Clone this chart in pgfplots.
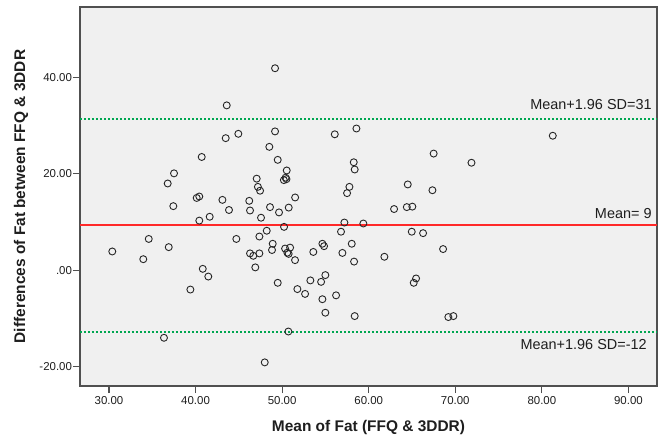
\documentclass[border=0pt]{standalone}
\usepackage{pgfplots}
\pgfplotsset{compat=1.18}
\usepackage{fontspec}
\setmainfont{Liberation Sans}
\definecolor{bgc}{RGB}{240,240,240}
\definecolor{frm}{RGB}{80,80,80}
\definecolor{grn}{RGB}{0,166,81}
\definecolor{rd}{RGB}{255,40,40}
\definecolor{txt}{RGB}{30,30,30}
\begin{document}
\begin{tikzpicture}
\path[use as bounding box] (-80bp,-55bp) rectangle (582bp,386bp);
\begin{axis}[
  scale only axis,
  width=577bp, height=379bp,
  xmin=26.65, xmax=93.3, ymin=-24.0, ymax=54.6,
  axis background/.style={fill=bgc},
  axis line style={frm, line width=1.2bp},
  tick style={frm, line width=1.2bp},
  major tick length=7bp,
  tick align=outside,
  xtick={30,40,50,60,70,80,90},
  xticklabels={30.00,40.00,50.00,60.00,70.00,80.00,90.00},
  ytick={-20,0,20,40},
  yticklabels={-20.00,.00,20.00,40.00},
  xtick pos=bottom, ytick pos=left,
  tick label style={font=\fontsize{11.5}{13}\selectfont, text=txt},
  yticklabel style={xshift=2.5bp},
  xlabel={Mean of Fat (FFQ \& 3DDR)},
  ylabel={Differences of Fat between FFQ \& 3DDR},
  label style={font=\fontsize{15.5}{18}\selectfont\bfseries, text=txt},
  xlabel style={at={(axis description cs:0.5,-0.1082)}, anchor=center},
  ylabel style={at={(axis description cs:-0.1023,0.5)}, anchor=center},
  clip=false,
]
\addplot[grn, line width=2.2bp, dash pattern=on 2bp off 2bp] coordinates {(26.65,31.45) (93.3,31.45)};
\addplot[rd, line width=1.8bp] coordinates {(26.65,9.34) (93.3,9.34)};
\addplot[grn, line width=2.2bp, dash pattern=on 2bp off 2bp] coordinates {(26.65,-12.86) (93.3,-12.86)};
\addplot[only marks, mark=o, mark size=3.5bp, mark options={draw=black!85, line width=0.9bp}] coordinates {
(49.18,41.9) (43.6,34.2) (43.48,27.4) (44.94,28.3) (49.18,28.8) (48.52,25.6)
(49.49,22.9) (40.71,23.5) (56.08,28.2) (58.58,29.4) (37.51,20.1) (36.78,18.0)
(47.06,19.0) (47.2,17.3) (47.45,16.5) (50.53,20.7) (50.4,19.2) (50.2,18.7)
(50.5,18.9) (51.5,15.1) (58.27,22.4) (58.38,20.9) (57.77,17.3) (57.5,16.0)
(40.13,15.0) (40.43,15.3) (43.1,14.6) (46.2,14.4) (81.26,27.9) (67.5,24.2)
(71.87,22.3) (64.51,17.8) (67.36,16.6) (37.43,13.3) (43.86,12.5) (46.29,12.4)
(48.6,13.1) (49.64,12.0) (50.76,13.0) (40.43,10.3) (41.63,11.1) (47.56,10.9)
(50.22,9.0) (57.19,9.9) (56.8,8.0) (48.22,8.2) (47.37,7.0) (44.71,6.5)
(34.59,6.5) (30.38,3.9) (33.96,2.3) (36.9,4.8) (48.91,5.5) (48.83,4.2)
(46.29,3.5) (46.67,3.0) (47.37,3.5) (46.9,0.6) (50.34,4.5) (50.92,4.7)
(50.6,3.65) (50.75,3.4) (51.49,2.1) (53.6,3.8) (54.65,5.5) (54.84,5.0)
(56.96,3.6) (58.04,5.5) (58.31,1.8) (40.83,0.3) (41.47,-1.3) (39.4,-4.0)
(49.49,-2.6) (51.76,-3.9) (52.65,-4.9) (53.26,-2.1) (54.5,-2.4) (54.99,-1.0)
(54.65,-6.0) (56.23,-5.2) (54.99,-8.8) (58.38,-9.5) (50.72,-12.7) (36.35,-14.0)
(47.99,-19.1) (62.93,12.7) (64.4,13.1) (65.04,13.2) (59.38,9.7) (64.97,8.0)
(66.28,7.7) (61.81,2.8) (68.59,4.4) (65.47,-1.7) (65.2,-2.6) (69.2,-9.7)
(69.78,-9.5)
};
\node[anchor=east, inner sep=0pt, font=\fontsize{14.5}{16}\selectfont, text=txt] at (axis cs:92.70,34.3) {Mean+1.96 SD=31};
\node[anchor=east, inner sep=0pt, font=\fontsize{14.5}{16}\selectfont, text=txt] at (axis cs:92.70,11.83) {Mean= 9};
\node[anchor=east, inner sep=0pt, font=\fontsize{14.5}{16}\selectfont, text=txt] at (axis cs:92.13,-15.5) {Mean+1.96 SD=-12};
\end{axis}
\end{tikzpicture}
\end{document}
